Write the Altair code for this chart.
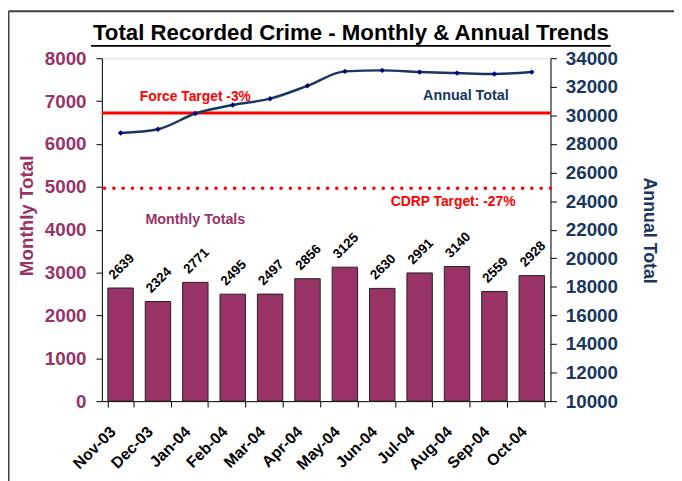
import altair as alt
import pandas as pd

# ---------------- data ----------------
months = ["Nov-03", "Dec-03", "Jan-04", "Feb-04", "Mar-04", "Apr-04",
          "May-04", "Jun-04", "Jul-04", "Aug-04", "Sep-04", "Oct-04"]
monthly = [2639, 2324, 2771, 2495, 2497, 2856, 3125, 2630, 2991, 3140, 2559, 2928]
annual = [28770, 29030, 30130, 30730, 31170, 32070, 33080, 33150, 33030, 32960, 32900, 33030]
force_target = 30160
cdrp_target = 24900
left_ticks = [0, 1000, 2000, 3000, 4000, 5000, 6000, 7000, 8000]
right_ticks = [10000, 12000, 14000, 16000, 18000, 20000, 22000, 24000,
               26000, 28000, 30000, 32000, 34000]
chart_title = "Total Recorded Crime - Monthly & Annual Trends"

FONT = "Liberation Sans"
PURPLE = "#993366"
NAVY = "#17375E"
RED = "#FF0000"

W, H = 454, 347

bars_df = pd.DataFrame({"month": months, "value": monthly, "label": [str(v) for v in monthly]})
line_df = pd.DataFrame({"month": months, "value": annual})
targets_df = pd.DataFrame({"value": [force_target], "name": ["Force"]})
cdrp_df = pd.DataFrame({"value": [cdrp_target], "name": ["CDRP"]})

x_enc = alt.X(
    "month:N", sort=months,
    scale=alt.Scale(paddingInner=0.32, paddingOuter=0.16),
    axis=alt.Axis(
        title=None, labelAngle=315, labelAlign="right", labelBaseline="middle",
        labelFont=FONT, labelFontSize=16, labelFontWeight="bold", labelColor="black",
        tickBand="extent", tickSize=6, tickColor="black", domainColor="black",
        labelPadding=22, labelOffset=-8,
    ),
)

y_left = alt.Y(
    "value:Q",
    scale=alt.Scale(domain=[0, 8000], nice=False, zero=True),
    axis=alt.Axis(
        orient="left", values=left_ticks, grid=False, title="Monthly Total", format="d",
        titleFont=FONT, titleFontSize=19, titleFontWeight="bold", titleColor=PURPLE,
        titleAngle=270, titleBaseline="alphabetic", titleX=-70, titleY=159,
        labelFont=FONT, labelFontSize=19, labelFontWeight="bold", labelColor=PURPLE,
        tickSize=6, tickColor="black", domainColor="black", labelPadding=10,
    ),
)

y_right = alt.Y(
    "value:Q",
    scale=alt.Scale(domain=[10000, 34000], nice=False, zero=False),
    axis=alt.Axis(
        orient="right", values=right_ticks, grid=False, title="Annual Total", format="d",
        titleFont=FONT, titleFontSize=18, titleFontWeight="bold", titleColor=NAVY,
        titleAngle=90, titleBaseline="alphabetic", titleX=94, titleY=174,
        labelFont=FONT, labelFontSize=19, labelFontWeight="bold", labelColor=NAVY,
        tickSize=6, tickColor="black", domainColor="black", labelPadding=9,
    ),
)

# ---------------- left (monthly) layers ----------------
bars = alt.Chart(bars_df).mark_bar(
    color=PURPLE, stroke="#222222", strokeWidth=1
).encode(x=x_enc, y=y_left)

bar_labels = alt.Chart(bars_df).mark_text(
    angle=315, align="left", baseline="alphabetic", dx=1, dy=-10.5,
    font=FONT, fontSize=13.5, fontWeight="bold", color="black",
).encode(x=x_enc, y=y_left, text="label:N")

monthly_note = alt.Chart(
    pd.DataFrame({"month": ["Jan-04"], "value": [4220], "text": ["Monthly Totals"]})
).mark_text(
    align="center", baseline="middle", font=FONT, fontSize=14.5,
    fontWeight="bold", color=PURPLE,
).encode(x=x_enc, y=y_left, text="text:N")

left = alt.layer(bars, bar_labels, monthly_note)

# ---------------- right (annual) layers ----------------
force_rule = alt.Chart(targets_df).mark_rule(color=RED, strokeWidth=3).encode(y=y_right)
cdrp_rule = alt.Chart(cdrp_df).mark_rule(
    color=RED, strokeWidth=3.5, strokeDash=[0.1, 9.3], strokeCap="round"
).encode(y=y_right)

annual_line = alt.Chart(line_df).mark_line(
    color=NAVY, strokeWidth=2.5, interpolate="monotone"
).encode(x=x_enc, y=y_right)
annual_pts = alt.Chart(line_df).mark_point(
    shape="diamond", filled=True, size=30, color="#000080", opacity=1
).encode(x=x_enc, y=y_right)

notes_right = pd.DataFrame({
    "month": ["Jan-04", "Aug-04", "Aug-04"],
    "value": [31300, 31370, 23920],
    "text": ["Force Target -3%", "Annual Total", "CDRP Target: -27%"],
})
force_note = alt.Chart(notes_right.iloc[[0]]).mark_text(
    align="center", baseline="middle", font=FONT, fontSize=14, fontWeight="bold", color=RED,
).encode(x=x_enc, y=y_right, text="text:N")
annual_note = alt.Chart(notes_right.iloc[[1]]).mark_text(
    align="center", baseline="middle", dx=9, font=FONT, fontSize=14.5, fontWeight="bold", color=NAVY,
).encode(x=x_enc, y=y_right, text="text:N")
cdrp_note = alt.Chart(notes_right.iloc[[2]]).mark_text(
    align="center", baseline="middle", dx=-4, font=FONT, fontSize=14, fontWeight="bold", color=RED,
).encode(x=x_enc, y=y_right, text="text:N")

right = alt.layer(force_rule, cdrp_rule, annual_line, annual_pts, force_note, annual_note, cdrp_note)

# ---------------- decorations (title, underline, outer frame) ----------------
deco_df = pd.DataFrame({"d": [0]})
title_text = alt.Chart(pd.DataFrame({"t": [chart_title]})).mark_text(
    align="center", baseline="alphabetic", font=FONT, fontSize=22.5,
    fontWeight="bold", color="black",
).encode(x=alt.value(252), y=alt.value(-18), text="t:N")
underline = alt.Chart(deco_df).mark_rule(color="black", strokeWidth=2).encode(
    x=alt.value(-11), x2=alt.value(515), y=alt.value(-12.5))
frame_top = alt.Chart(deco_df).mark_rule(color="#404040", strokeWidth=2).encode(
    x=alt.value(-94.5), x2=alt.value(600), y=alt.value(-47.5))
frame_left = alt.Chart(deco_df).mark_rule(color="#404040", strokeWidth=2).encode(
    x=alt.value(-94.5), y=alt.value(-47.5), y2=alt.value(440))

chart = alt.layer(left, right, title_text, underline, frame_top, frame_left).resolve_scale(
    y="independent"
).properties(
    width=W, height=H,
    autosize=alt.AutoSizeParams(type="none"),
    padding={"left": 95, "top": 48, "right": 125, "bottom": 78},
).configure_view(
    stroke="#999999", strokeWidth=1
).configure(background="white")

chart.save("out.html", embed_options={"renderer": "svg", "actions": False})
